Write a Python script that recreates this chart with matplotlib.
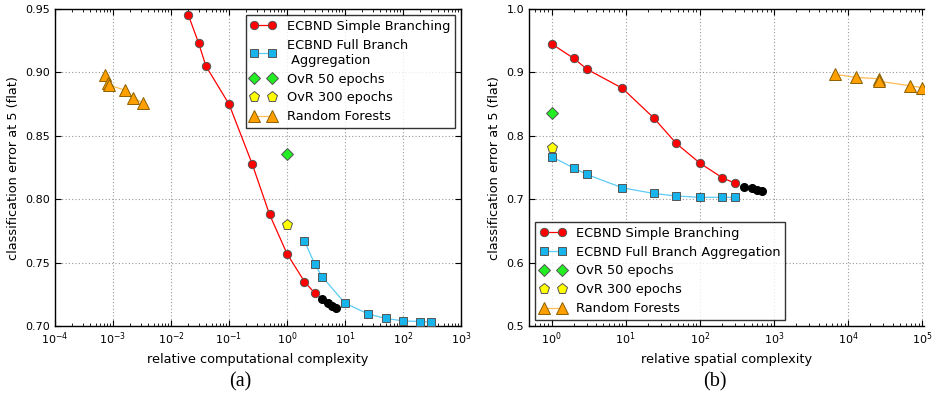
import numpy as np
import matplotlib
matplotlib.use('Agg')
import matplotlib.pyplot as plt

# (a) computational complexity
simple_x = [0.02, 0.03, 0.04, 0.1, 0.25, 0.5, 1, 2, 3]
simple_y = [0.945, 0.923, 0.905, 0.875, 0.828, 0.788, 0.757, 0.735, 0.726]
extra_x = [4, 5, 6, 7]
extra_y = [0.721, 0.718, 0.716, 0.714]
full_x = [2, 3, 4, 10, 25, 50, 100, 200, 300]
full_y = [0.767, 0.749, 0.739, 0.718, 0.7095, 0.706, 0.704, 0.7035, 0.703]
ovr50_x, ovr50_y = [1], [0.836]
ovr300_x, ovr300_y = [1], [0.780]
rf_x = [7.3e-4, 8.3e-4, 8.6e-4, 1.6e-3, 2.2e-3, 3.3e-3]
rf_y = [0.898, 0.892, 0.890, 0.886, 0.880, 0.876]

# (b) spatial complexity
simple_xs = [1, 2, 3, 9, 24, 48, 100, 200, 300]
simple_ys = [0.945, 0.922, 0.905, 0.875, 0.828, 0.788, 0.757, 0.734, 0.725]
extra_xs = [400, 500, 600, 700]
extra_ys = [0.720, 0.717, 0.715, 0.713]
full_xs = [1, 2, 3, 9, 24, 48, 100, 200, 300]
full_ys = [0.767, 0.749, 0.739, 0.718, 0.709, 0.705, 0.703, 0.703, 0.703]
ovr50_xs, ovr50_ys = [1], [0.836]
ovr300_xs, ovr300_ys = [1], [0.781]
rf_xs = [6700, 13000, 26000, 26500, 68000, 100000]
rf_ys = [0.897, 0.892, 0.890, 0.886, 0.879, 0.876]

ylabel = 'classification error at 5 (flat)'
edge = '#555555'


def draw(ax, sx, sy, ex, ey, fx, fy, gx, gy, px, py, rx, ry, full_label):
    ax.plot(sx, sy, '-o', color='red', lw=0.9, ms=6, mec=edge, mew=0.7,
            label='ECBND Simple Branching', zorder=4)
    ax.plot(ex, ey, 'o', color='black', ms=5.5, mec='black', zorder=4)
    ax.plot(fx, fy, '-s', color='#5ccbf5', mfc='#18b4ec', lw=0.9, ms=6,
            mec=edge, mew=0.7, label=full_label, zorder=3)
    ax.plot(gx, gy, 'D', color='#22ee22', ms=6, mec=edge, mew=0.7,
            label='OvR 50 epochs', zorder=4)
    ax.plot(px, py, 'p', color='#ffff00', ms=8, mec=edge, mew=0.7,
            label='OvR 300 epochs', zorder=4)
    ax.plot(rx, ry, '-^', color='#ffbb55', mfc='#ff9f00', lw=0.9, ms=8,
            mec='#8a6000', mew=0.7, label='Random Forests', zorder=4)
    ax.set_xscale('log')
    ax.grid(True, which='major', color='0.6', linestyle=(0, (1, 2)), linewidth=0.8)
    ax.tick_params(which='both', direction='in', top=True, right=True, labelsize=8)
    ax.tick_params(which='major', length=4)
    ax.tick_params(which='minor', length=2)
    for s in ax.spines.values():
        s.set_linewidth(1.0)
    ax.set_ylabel(ylabel, fontsize=9.3)


fig = plt.figure(figsize=(9.32, 3.96), dpi=100)
ax1 = fig.add_axes([55 / 932, 70 / 396, 406 / 932, 317 / 396])
ax2 = fig.add_axes([529 / 932, 70 / 396, 395 / 932, 317 / 396])

draw(ax1, simple_x, simple_y, extra_x, extra_y, full_x, full_y,
     ovr50_x, ovr50_y, ovr300_x, ovr300_y, rf_x, rf_y,
     'ECBND Full Branch\n Aggregation')
ax1.set_xlim(1e-4, 1e3)
ax1.set_ylim(0.70, 0.95)
ax1.set_yticks(np.arange(0.70, 0.951, 0.05))
ax1.set_xlabel('relative computational complexity', fontsize=9.3)
leg1 = ax1.legend(loc='upper right', numpoints=2, fontsize=9.3, fancybox=False,
                  handlelength=2, borderpad=0.35, labelspacing=0.45)
leg1.get_frame().set_edgecolor('black')

draw(ax2, simple_xs, simple_ys, extra_xs, extra_ys, full_xs, full_ys,
     ovr50_xs, ovr50_ys, ovr300_xs, ovr300_ys, rf_xs, rf_ys,
     'ECBND Full Branch Aggregation')
# the original picture is cropped just past 10^5
ax2.set_xlim(0.495, 1.06e5)
ax2.set_ylim(0.5, 1.0)
ax2.set_yticks(np.arange(0.5, 1.01, 0.1))
ax2.spines['right'].set_visible(False)
ax2.tick_params(which='both', right=False)
ax2.set_xlabel('relative spatial complexity', fontsize=9.3)
leg2 = ax2.legend(loc='lower left', numpoints=2, fontsize=9.3, fancybox=False,
                  handlelength=2, borderpad=0.35, labelspacing=0.45)
leg2.get_frame().set_edgecolor('black')

fig.text(240 / 932, 1 - 382 / 396, '(a)', ha='center', va='center',
         fontsize=14.5, family='Liberation Serif')
fig.text(715 / 932, 1 - 382 / 396, '(b)', ha='center', va='center',
         fontsize=14.5, family='Liberation Serif')

fig.savefig('out.png', dpi=100)
